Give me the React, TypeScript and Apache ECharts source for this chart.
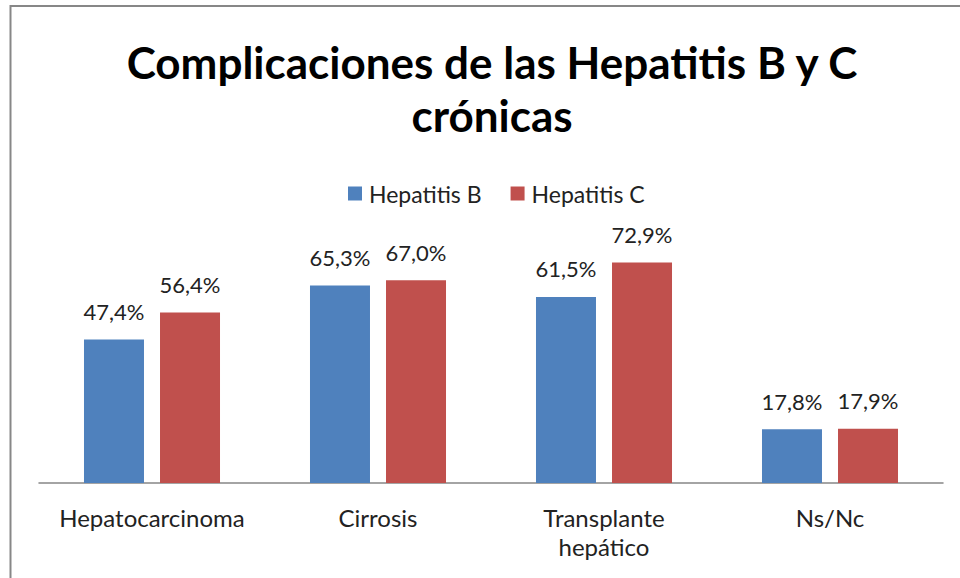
import React, { useEffect, useRef } from "react";
import * as echarts from "echarts";

const categories = ["Hepatocarcinoma", "Cirrosis", "Transplante\nhepático", "Ns/Nc"];
const hepatitisB = [47.4, 65.3, 61.5, 17.8];
const hepatitisC = [56.4, 67.0, 72.9, 17.9];
const seriesNames = ["Hepatitis B", "Hepatitis C"];
const titleText = "Complicaciones de las Hepatitis B y C\ncrónicas";

const FONT = "Lato, 'Open Sans', sans-serif";

export default function App() {
  const ref = useRef<HTMLDivElement>(null);
  useEffect(() => {
    if (!ref.current) return;
    const chart = echarts.init(ref.current, undefined, { renderer: "svg" });
    const fmt = (p: any) => p.value.toFixed(1).replace(".", ",") + "%";
    const labelStyle = {
      show: true,
      position: "top",
      distance: 17,
      formatter: fmt,
      fontFamily: FONT,
      fontSize: 22,
      color: "#222222",
    };
    chart.setOption({
      animation: false,
      backgroundColor: "#ffffff",
      textStyle: { fontFamily: FONT },
      title: {
        text: titleText,
        left: 487,
        textAlign: "center",
        top: 30,
        textStyle: {
          fontFamily: FONT,
          fontWeight: "bold",
          fontSize: 44,
          lineHeight: 53,
          color: "#000000",
        },
      },
      legend: {
        left: 343,
        top: 177,
        itemWidth: 14,
        itemHeight: 14,
        itemGap: 29,
        icon: "rect",
        textStyle: { fontFamily: FONT, fontSize: 23, color: "#222222", padding: [0, 0, 0, 2] },
        data: seriesNames,
      },
      graphic: [
        {
          type: "rect",
          shape: { x: 10.5, y: 6, width: 1200, height: 1200 },
          style: { fill: "none", stroke: "#878787", lineWidth: 2 },
          silent: true,
        },
      ],
      grid: { left: 39, right: 17, top: 241, bottom: 95, containLabel: false },
      xAxis: {
        type: "category",
        data: categories,
        axisLine: { show: true, lineStyle: { color: "#868686", width: 1.5 } },
        axisTick: { show: false },
        axisLabel: {
          fontFamily: FONT,
          fontSize: 24,
          lineHeight: 29,
          color: "#222222",
          margin: 20,
          interval: 0,
        },
      },
      yAxis: {
        type: "value",
        min: 0,
        max: 80,
        show: false,
        splitLine: { show: false },
      },
      series: [
        {
          name: seriesNames[0],
          type: "bar",
          data: hepatitisB,
          barWidth: 60,
          barGap: "26.7%",
          itemStyle: { color: "#4F81BD" },
          label: labelStyle,
        },
        {
          name: seriesNames[1],
          type: "bar",
          data: hepatitisC,
          barWidth: 60,
          barGap: "26.7%",
          itemStyle: { color: "#C0504D" },
          label: labelStyle,
        },
      ],
    });
    return () => chart.dispose();
  }, []);
  return (
    <div
      ref={ref}
      style={{ position: "fixed", left: 0, top: 0, width: 960, height: 578 }}
    />
  );
}
